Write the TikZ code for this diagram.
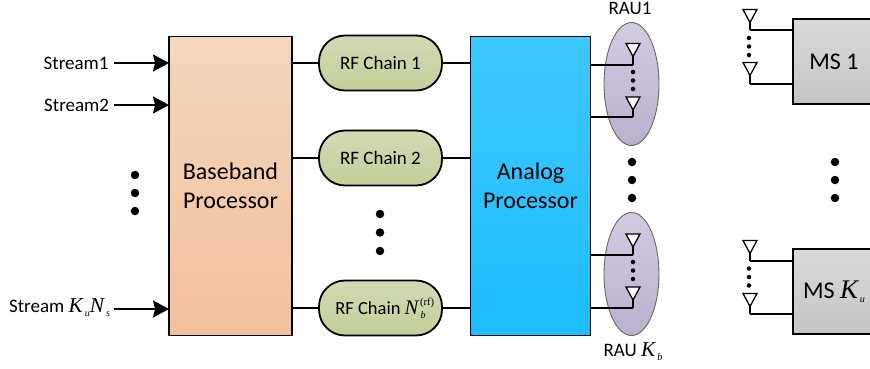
\documentclass[tikz,border=0pt]{standalone}
\usepackage{fontspec}
\setmainfont{Carlito}
\newfontfamily\mif{Liberation Serif}[ItalicFont=Liberation Serif Italic,Scale=1.12]
\usetikzlibrary{arrows.meta,shapes.geometric}
\newcommand{\vK}{{\mif\itshape K}}
\newcommand{\vN}{{\mif\itshape N}}
\newcommand{\subs}[1]{\hspace{2pt}\raisebox{-4pt}{\fontsize{9}{9}\selectfont\mif\itshape #1}}
\tikzset{
  x=1pt,y=-1pt,
  every node/.style={inner sep=0pt,outer sep=0pt,font=\fontsize{19}{22}\selectfont},
  bigbox/.style={draw=black,line width=1.9pt,rectangle,minimum width=123pt,minimum height=299pt,align=center,font=\fontsize{24}{29}\selectfont},
  rfbox/.style={draw=black,line width=1.8pt,rounded corners=26pt,minimum width=123pt,minimum height=55pt,top color=rftop,bottom color=rfbot,font=\fontsize{19}{22}\selectfont},
  msbox/.style={draw=black,line width=1.8pt,rectangle,minimum width=82pt,minimum height=85pt,top color=mstop,bottom color=msbot,font=\fontsize{24}{26}\selectfont},
  raubox/.style={draw=black!60,line width=0.9pt,ellipse,minimum width=55pt,minimum height=123pt,top color=rautop,bottom color=raubot},
  wire/.style={draw=black,line width=1.8pt},
  inarrow/.style={draw=black,line width=1.8pt,-{Stealth[length=16pt,width=17pt,inset=2pt]}},
  bigdot/.style={fill=black,circle,minimum size=8.5pt},
  smalldot/.style={fill=black,circle,minimum size=4.5pt},
}
\definecolor{rftop}{HTML}{D2DAB4}
\definecolor{rfbot}{HTML}{C3CF99}
\definecolor{mstop}{HTML}{DADADA}
\definecolor{msbot}{HTML}{C4C4C4}
\definecolor{rautop}{HTML}{D2CBE0}
\definecolor{raubot}{HTML}{BBB0CF}
\definecolor{bbtop}{HTML}{F6D6BC}
\definecolor{bbbot}{HTML}{F2C09B}
\definecolor{antop}{HTML}{3DC8FF}
\definecolor{anbot}{HTML}{1DBDFF}
% antenna: name, stem x, top y, wire y
\newcommand{\antenna}[4]{%
  \coordinate (#1) at (#2,#4);
  \coordinate (#1t) at (#2,#3+12);
  \draw[wire] (#1t) -- (#1);
  \draw[draw=black,line width=1.3pt,fill=white,line join=miter] (#2-7,#3) -- (#2+7,#3) -- (#2,#3+13) -- cycle;
}
\begin{document}
\begin{tikzpicture}
\useasboundingbox (0,0) rectangle (870,369);
% main blocks
\node[bigbox,top color=bbtop,bottom color=bbbot] (bb) at (230.5,186) {Baseband\\Processor};
\node[bigbox,minimum width=120pt,top color=antop,bottom color=anbot] (an) at (530.5,186) {Analog\\Processor};
\node[rfbox] (rf1) at (380.5,63) {RF Chain 1};
\node[rfbox] (rf2) at (380.5,158) {RF Chain 2};
\node[rfbox,font=\fontsize{18.5}{22}\selectfont] (rf3) at (380.5,308) {RF Chain \vN\makebox[0pt][l]{\raisebox{9pt}{\hspace{1.5pt}\fontsize{9.5}{9.5}\selectfont\mif (rf)}}\subs{b}\hspace{24pt}};
% stream inputs
\node[anchor=east] (s1) at (108.5,63) {Stream1};
\node[anchor=east] (s2) at (109,105) {Stream2};
\node[anchor=east] (s3) at (110,308) {Stream \vK\subs{u}\vN\subs{s}};
\coordinate (s1e) at (114,63);
\coordinate (s2e) at (114,105);
\coordinate (s3e) at (114,309);
\draw[inarrow] (s1e) -- (s1e -| bb.west);
\draw[inarrow] (s2e) -- (s2e -| bb.west);
\draw[inarrow] (s3e) -- (s3e -| bb.west);
% chain links
\foreach \r in {rf1,rf2,rf3}{
  \draw[wire] (bb.east |- \r.west) -- (\r.west);
  \draw[wire] (\r.east) -- (an.west |- \r.east);
}
% RAU ellipses
\node[raubox] (rau1) at (631.5,84) {};
\node[raubox] (rau2) at (631.5,274) {};
\node (rau1l) at (630,8) {RAU1};
\node (rau2l) at (633,352) {RAU \vK\subs{b}};
\antenna{a1}{633}{43.5}{65}
\antenna{a2}{633}{97}{117}
\antenna{a3}{633}{234}{255}
\antenna{a4}{633}{287}{308}
\foreach \a in {a1,a2,a3,a4}{\draw[wire] (an.east |- \a) -- (\a);}
% mobile stations
\node[msbox] (ms1) at (834,61.5) {MS 1};
\node[msbox] (ms2) at (834,291.5) {MS \vK\subs{u}};
\antenna{b1}{750}{9.5}{30}
\antenna{b2}{750}{62.5}{84}
\antenna{b3}{750}{240.5}{261}
\antenna{b4}{750}{293.5}{314}
\foreach \a/\m in {b1/ms1,b2/ms1,b3/ms2,b4/ms2}{\draw[wire] (\a) -- (\m.west |- \a);}
% dots
\foreach \x/\y [count=\i] in {135/175,135/193,135/211,380/214,380/232.5,380/251,632/162,632/180,632/198,835/162,835/180,835/198}{
  \node[bigdot] (bd\i) at (\x,\y) {};
}
\foreach \x/\y [count=\i] in {633/72,633/80.5,633/89,633/262,633/270.5,633/279,749/38,749/46.5,749/55,749/268.5,749/277,749/285.5}{
  \node[smalldot] (sd\i) at (\x,\y) {};
}
\end{tikzpicture}
\end{document}
